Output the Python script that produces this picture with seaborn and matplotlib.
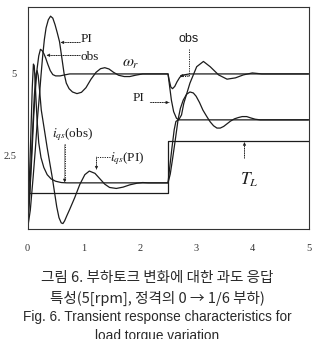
import matplotlib
matplotlib.use("Agg")
import matplotlib.pyplot as plt
import seaborn as sns

# speed, PI controller
t_w_pi = [0, 0.05, 0.1, 0.14, 0.18, 0.21, 0.24, 0.27, 0.3, 0.33, 0.37, 0.41,
          0.45, 0.49, 0.53, 0.57, 0.61, 0.65, 0.69, 0.74, 0.8, 0.88, 0.96,
          1.04, 1.13, 1.22, 1.3, 1.375, 1.45, 1.53, 1.62, 1.72, 1.82, 1.92,
          2.05, 2.5, 2.53, 2.56, 2.6, 2.65, 2.69, 2.74, 2.78, 2.89, 3.01,
          3.13, 3.25, 3.4, 3.55, 3.7, 3.84, 4.0, 4.17, 5.0]
w_pi = [0.27, 0.85, 1.85, 2.72, 3.7, 4.3, 4.95, 5.55, 6.05, 6.4, 6.65, 6.76,
        6.7, 6.5, 6.25, 5.98, 5.5, 5.02, 4.72, 4.55, 4.45, 4.4, 4.44,
        4.58, 4.84, 5.05, 5.16, 5.19, 5.15, 5.05, 4.96, 4.92, 4.92, 4.96,
        5.0, 5.0, 4.6, 4.2, 3.85, 3.65, 3.6, 3.75, 4.1, 4.72, 5.22,
        5.38, 5.22, 4.97, 4.84, 4.88, 4.97, 5.03, 5.0, 5.0]

# speed, observer
t_w_obs = [0, 0.04, 0.08, 0.11, 0.14, 0.17, 0.2, 0.23, 0.26, 0.29, 0.32,
           0.36, 0.405, 0.45, 0.5, 0.58, 0.66, 0.75, 2.5, 2.52, 2.55, 2.58,
           2.62, 2.66, 2.71, 2.78, 2.88, 5.0]
w_obs = [0.27, 1.3, 2.6, 3.7, 4.5, 5.15, 5.55, 5.75, 5.71, 5.62, 5.5,
         5.3, 5.1, 4.98, 4.94, 4.94, 4.97, 5.0, 5.0, 4.82, 4.6, 4.55,
         4.62, 4.76, 4.9, 4.97, 5.0, 5.0]

# q-axis current, observer
t_i_obs = [0, 0.03, 0.06, 0.085, 0.105, 0.12, 0.14, 0.17, 0.2, 0.24, 0.29,
           0.35, 0.42, 0.5, 0.6, 0.7, 2.5, 2.53, 2.57, 2.61, 2.64, 2.68, 5.0]
i_obs = [0.27, 1.6, 3.2, 4.6, 5.3, 5.25, 4.6, 3.6, 2.9, 2.45, 2.15,
         1.93, 1.8, 1.73, 1.69, 1.68, 1.68, 2.15, 2.75, 3.3, 3.55, 3.6, 3.6]

# q-axis current, PI
t_i_pi = [0, 0.04, 0.08, 0.12, 0.15, 0.17, 0.19, 0.215, 0.245, 0.3, 0.35,
          0.39, 0.44, 0.48, 0.52, 0.56, 0.6, 0.63, 0.66, 0.7, 0.75, 0.84,
          0.93, 1.02, 1.1, 1.2, 1.29, 1.375, 1.46, 1.58, 1.7, 1.82, 1.95,
          2.05, 2.15, 2.5, 2.54, 2.58, 2.63, 2.68, 2.72, 2.77, 2.83, 2.89,
          2.95, 3.0, 3.06, 3.12, 3.19, 3.25, 3.31, 3.37, 3.43, 3.49, 3.55,
          3.61, 3.68, 3.75, 3.82, 3.9, 3.97, 4.05, 4.14, 5.0]
i_pi = [0.27, 1.4, 2.9, 4.3, 5.0, 5.1, 4.95, 4.5, 3.9, 3.3, 2.75,
        2.35, 1.85, 1.4, 0.95, 0.62, 0.46, 0.44, 0.52, 0.68, 0.87, 1.23,
        1.63, 1.93, 2.04, 1.97, 1.8, 1.64, 1.54, 1.51, 1.55, 1.62, 1.67,
        1.69, 1.68, 1.68, 1.95, 2.4, 3.0, 3.62, 3.95, 4.2, 4.38, 4.45,
        4.42, 4.32, 4.13, 3.9, 3.7, 3.54, 3.42, 3.35, 3.35, 3.4, 3.48,
        3.56, 3.63, 3.67, 3.7, 3.7, 3.66, 3.62, 3.6, 3.6]

# load torque
t_load = [0, 2.5, 2.5, 5.0]
load = [1.38, 1.38, 2.95, 2.95]

curves = [(t_w_pi, w_pi), (t_w_obs, w_obs), (t_i_obs, i_obs),
          (t_i_pi, i_pi), (t_load, load)]

xticks = [0, 1, 2, 3, 4, 5]
yticks = [2.5, 5]
ytick_labels = ["2.5", "5"]

caption = ["그림 6. 부하토크 변화에 대한 과도 응답",
           "특성(5[rpm], 정격의 0 → 1/6 부하)",
           "Fig. 6. Transient response characteristics for",
           "load torque variation"]

sns.set_style("white")
plt.rcParams["font.family"] = ["Liberation Serif", "DejaVu Serif"]
plt.rcParams["mathtext.fontset"] = "stix"

ink = "#1c1c1c"
fig = plt.figure(figsize=(3.14, 3.39), dpi=100)
ax = fig.add_axes([0.0876, 0.3236, 0.895, 0.6558])

for tx, ty in curves:
    sns.lineplot(x=tx, y=ty, ax=ax, color=ink, lw=0.9,
                 estimator=None, sort=False)

ax.set_xlim(0, 5)
ax.set_ylim(0.265, 7.04)
ax.set_xticks(xticks)
ax.set_xticklabels([str(v) for v in xticks], fontsize=7.5, color="#333333")
ax.set_yticks(yticks)
ax.set_yticklabels(ytick_labels, fontsize=7.5, color="#333333")
ax.tick_params(axis="x", length=2.5, width=0.7, pad=8, colors="#333333")
ax.tick_params(axis="y", length=2, width=0.7, pad=6, colors="#333333")
for s in ax.spines.values():
    s.set_visible(True)
    s.set_color("#333333")
    s.set_linewidth(0.8)


def dotted_arrow(pts):
    xs = [p[0] for p in pts]
    ys = [p[1] for p in pts]
    ax.plot(xs, ys, ls=(0, (1.2, 1.2)), color=ink, lw=0.7)
    ax.annotate("", xy=pts[-1], xytext=pts[-2],
                arrowprops=dict(arrowstyle="-|>", color=ink, lw=0.3,
                                mutation_scale=5, shrinkA=0, shrinkB=0))


lab = dict(color=ink, ha="center", va="center")
ax.text(1.054, 6.05, "PI", fontsize=9.5, **lab)
dotted_arrow([(0.93, 5.96), (0.59, 5.96)])
ax.text(1.107, 5.53, "obs", fontsize=9.5, **lab)
dotted_arrow([(0.93, 5.57), (0.34, 5.57)])
ax.text(1.84, 5.32, r"$\omega_r$", fontsize=11.5, **lab)
ax.text(1.97, 4.28, "PI", fontsize=9.5, **lab)
dotted_arrow([(2.18, 4.13), (2.52, 4.13)])
ax.text(2.875, 6.05, "obs", fontsize=9, family="Liberation Sans", **lab)
dotted_arrow([(2.88, 5.75), (2.88, 4.95), (2.71, 4.95)])
ax.text(0.80, 3.16, r"$i_{qs}$(obs)", fontsize=9.5, **lab)
dotted_arrow([(0.66, 2.85), (0.66, 1.70)])
ax.text(1.77, 2.42, r"$i_{qs}$(PI)", fontsize=9.5, **lab)
dotted_arrow([(1.46, 2.48), (1.227, 2.48), (1.227, 2.09)])
ax.text(3.95, 1.78, r"$T_L$", fontsize=12.5, **lab)
dotted_arrow([(3.86, 2.45), (3.86, 2.92)])

cap_y = [278, 298, 317, 336]
for i, (txt, py) in enumerate(zip(caption, cap_y)):
    if i < 2:
        fam = ["Noto Sans CJK KR", "DejaVu Sans"]
        fs = 10.5
    else:
        fam = ["Liberation Sans", "DejaVu Sans"]
        fs = 9.8
    fig.text(0.5, 1 - py / 339, txt, ha="center", va="center",
             fontsize=fs, family=fam, color="#2a2a2a")

fig.savefig("out.png", dpi=100)
